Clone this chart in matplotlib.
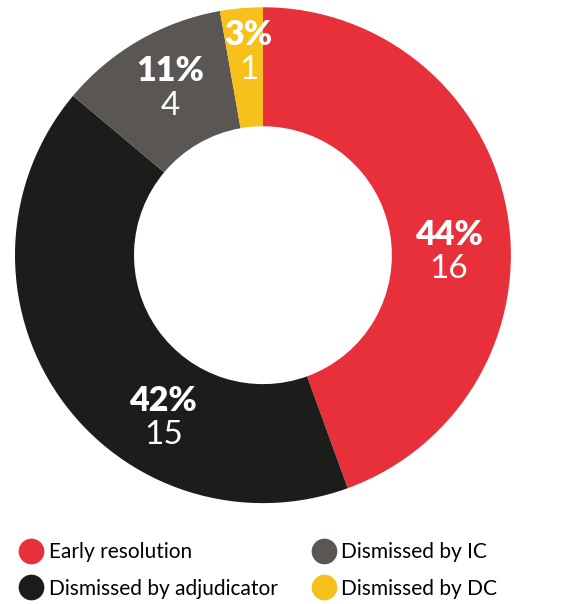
import numpy as np
import matplotlib.pyplot as plt
from matplotlib.lines import Line2D

categories = ['Early resolution', 'Dismissed by adjudicator', 'Dismissed by IC', 'Dismissed by DC']
counts = [16, 15, 4, 1]
percents = ['44%', '42%', '11%', '3%']
colors = ['#E8303A', '#1C1C1A', '#595653', '#F8C01B']

# label anchor per wedge: (angle in degrees, radius)
label_pos = [(1, 0.75), (-121.5, 0.77), (119, 0.77), (94, 0.82)]

plt.rcParams['font.family'] = ['Lato', 'DejaVu Sans']

fig = plt.figure(figsize=(5.76, 6.04), dpi=100)
ax = fig.add_axes([0.026, 0.167, 0.861, 0.821])
ax.pie(counts, colors=colors, startangle=90, counterclock=False,
       wedgeprops=dict(width=0.48, linewidth=0))
ax.set_xlim(-1, 1)
ax.set_ylim(-1, 1)
ax.set_aspect('equal')

for (ang, r), pct, n in zip(label_pos, percents, counts):
    x = r * np.cos(np.radians(ang))
    y = r * np.sin(np.radians(ang))
    ax.text(x, y + 0.005, pct, ha='center', va='bottom', color='white',
            fontsize=24.5, fontweight='heavy')
    ax.text(x, y - 0.01, str(n), ha='center', va='top', color='white',
            fontsize=24, fontweight='normal')

handles = [Line2D([], [], marker='o', linestyle='none', markersize=18.5,
                  markerfacecolor=c, markeredgewidth=0) for c in colors]
fig.legend(handles, categories, ncol=2, loc='lower left',
           bbox_to_anchor=(0.0, -0.022), frameon=False, fontsize=15,
           handletextpad=0.25, columnspacing=1.6, labelspacing=0.8,
           handlelength=1.2)

fig.savefig('out.png', dpi=100)
